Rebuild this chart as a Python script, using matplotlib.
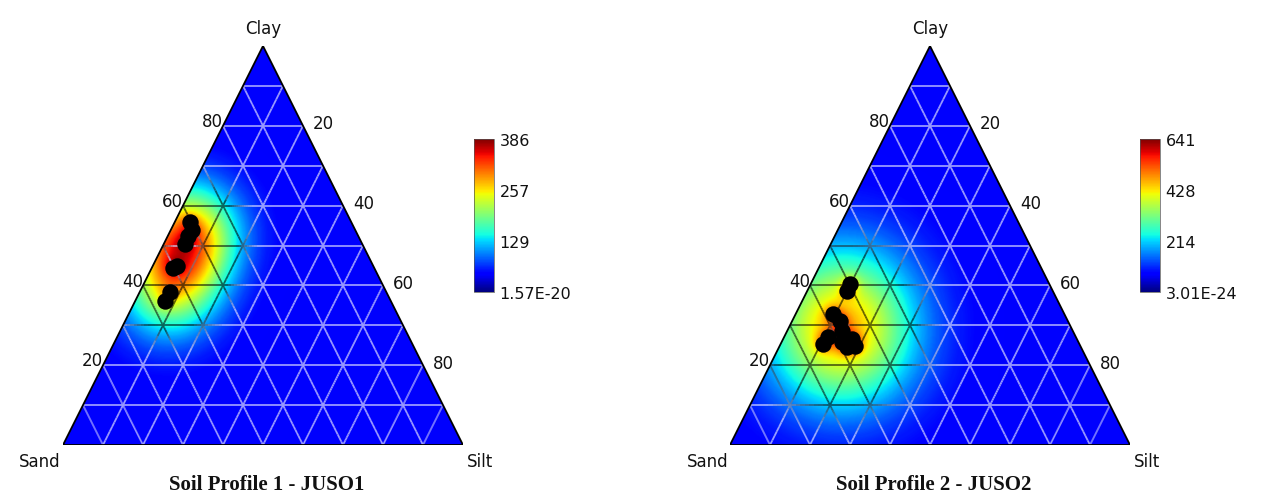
import numpy as np
import matplotlib
matplotlib.use("Agg")
import matplotlib.pyplot as plt
from matplotlib.colors import ListedColormap, Normalize
from matplotlib.collections import LineCollection
from matplotlib.patches import Polygon
from matplotlib.cm import ScalarMappable

# sample compositions (% clay, % silt) for the two soil profiles
clay_1 = [56.0, 54.0, 52.4, 50.4, 44.9, 44.4, 38.3, 36.1]
silt_1 = [3.7, 5.2, 5.1, 5.3, 6.1, 5.3, 7.6, 7.5]

clay_2 = [40.4, 38.6, 32.8, 31.1, 28.6, 27.1, 25.3, 25.8, 24.6, 24.8, 26.6]
silt_2 = [9.8, 10.0, 9.4, 12.0, 13.7, 11.0, 10.6, 15.1, 17.0, 18.9, 17.2]

# density scale (colour bar) for each profile
vmin_1, vmax_1 = 1.57e-20, 386.0
vmin_2, vmax_2 = 3.01e-24, 641.0
cbar_ticks_1 = [1.57e-20, 129, 257, 386]
cbar_labels_1 = ["1.57E-20", "129", "257", "386"]
cbar_ticks_2 = [3.01e-24, 214, 428, 641]
cbar_labels_2 = ["3.01E-24", "214", "428", "641"]

titles = ["Soil Profile 1 - JUSO1", "Soil Profile 2 - JUSO2"]
axis_ticks = [20, 40, 60, 80]

W, H = 1263, 502
fig = plt.figure(figsize=(W / 100, H / 100), dpi=100)

jet = plt.get_cmap("jet")
fill_cmap = ListedColormap(jet(np.linspace(0.11, 1.0, 256)))

LABEL_FONT = dict(family="DejaVu Sans", fontsize=12, color="#111111")


def to_xy(clay, silt):
    clay = np.asarray(clay, float)
    silt = np.asarray(silt, float)
    return silt + clay / 2.0, clay


def gauss_sum(X, Y, px, py, sigma):
    d = np.zeros_like(X)
    for xi, yi in zip(px, py):
        d += np.exp(-((X - xi) ** 2 + (Y - yi) ** 2) / (2 * sigma ** 2))
    return d


def make_field(px, py, sigma, broad_share):
    # smooth kernel estimate plus a sharp peak under each sample,
    # each part scaled to 1 before mixing
    gx, gy = np.meshgrid(np.linspace(0, 100, 401), np.linspace(0, 100, 401))
    b_max = gauss_sum(gx, gy, px, py, sigma).max()
    s_max = gauss_sum(gx, gy, px, py, 1.6).max()

    def f(X, Y):
        return broad_share * gauss_sum(X, Y, px, py, sigma) / b_max + \
            (1 - broad_share) * gauss_sum(X, Y, px, py, 1.6) / s_max
    return f


def line_colors(vals, norm):
    c = fill_cmap(norm(vals))[:, :3]
    lum = c @ np.array([0.3, 0.59, 0.11])
    t = np.clip((lum - 0.25) / 0.35, 0, 1)[:, None]
    light = 0.3 * c + 0.7 * np.array([0.85, 0.85, 1.0])
    dark = 0.4 * c
    return (1 - t) * light + t * dark


def ternary(left_px, clay, silt, vmin, vmax, sigma, share, ticks, labels, cbar_left, title):
    ax = fig.add_axes([left_px / W, (H - 446) / H, 400 / W, 399 / H])
    ax.set_xlim(0, 100)
    ax.set_ylim(0, 100)
    ax.axis("off")

    px, py = to_xy(clay, silt)
    fn = make_field(px, py, sigma, share)
    xs = np.linspace(0, 100, 501)
    X, Y = np.meshgrid(xs, xs)
    field = fn(X, Y)
    scale = vmax / field.max()
    field *= scale
    norm = Normalize(0, vmax)

    im = ax.imshow(field, extent=(0, 100, 0, 100), origin="lower",
                   cmap=fill_cmap, norm=norm, aspect="auto",
                   interpolation="bilinear", zorder=1)
    clip = Polygon([(0, 0), (100, 0), (50, 100)], closed=True,
                   transform=ax.transData, facecolor="none", edgecolor="none")
    ax.add_patch(clip)
    im.set_clip_path(clip)

    # grid lines every 10 %, shaded against the fill underneath
    segs = []
    for k in range(10, 100, 10):
        lines = [((k / 2, k), (100 - k / 2, k)),
                 ((k, 0), (k + (100 - k) / 2, 100 - k)),
                 ((100 - k, 0), ((100 - k) / 2, 100 - k))]
        for (x0, y0), (x1, y1) in lines:
            t = np.linspace(0, 1, 80)
            pts = np.column_stack([x0 + (x1 - x0) * t, y0 + (y1 - y0) * t])
            segs.extend(np.stack([pts[:-1], pts[1:]], axis=1))
    segs = np.array(segs)
    mid = segs.mean(axis=1)
    mval = fn(mid[:, 0], mid[:, 1]) * scale
    ax.add_collection(LineCollection(segs, colors=line_colors(mval, norm),
                                     linewidths=1.3, zorder=2))

    ax.add_patch(Polygon([(0, 0), (100, 0), (50, 100)], closed=True,
                         facecolor="none", edgecolor="black", lw=1.3, zorder=5))

    ax.scatter(px, py, s=140, color="black", zorder=6, linewidths=0)

    # axis labels along the edges
    for v in axis_ticks:
        ax.text(v / 2, v + 1.2, str(v), ha="right", va="center", clip_on=False, **LABEL_FONT)
        ax.text(100 - v / 2 + 2.5, v + 0.6, str(100 - v), ha="left", va="center",
                clip_on=False, **LABEL_FONT)

    ax.text(50, 104.5, "Clay", ha="center", va="center", clip_on=False, **LABEL_FONT)
    ax.text(-0.5, -4, "Sand", ha="right", va="center", clip_on=False, **LABEL_FONT)
    ax.text(101, -4, "Silt", ha="left", va="center", clip_on=False, **LABEL_FONT)
    ax.text(51, -9.8, title, ha="center", va="center", clip_on=False,
            family="Liberation Serif", fontsize=15, fontweight="bold", color="#111111")

    cax = fig.add_axes([cbar_left / W, (H - 293) / H, 20 / W, 153 / H])
    cb = fig.colorbar(ScalarMappable(Normalize(vmin, vmax), jet), cax=cax)
    cb.set_ticks(ticks)
    cb.set_ticklabels(labels)
    cb.ax.tick_params(length=0, pad=4, labelsize=11.5)
    cb.outline.set_linewidth(0.5)
    cb.outline.set_edgecolor("#555555")
    for t in cb.ax.get_yticklabels():
        t.set_family("DejaVu Sans")
        t.set_color("#111111")


ternary(63, clay_1, silt_1, vmin_1, vmax_1, 8.5, 0.88, cbar_ticks_1, cbar_labels_1, 474, titles[0])
ternary(730, clay_2, silt_2, vmin_2, vmax_2, 12.5, 0.68, cbar_ticks_2, cbar_labels_2, 1140, titles[1])

fig.savefig("out.png", dpi=100, facecolor="white")
